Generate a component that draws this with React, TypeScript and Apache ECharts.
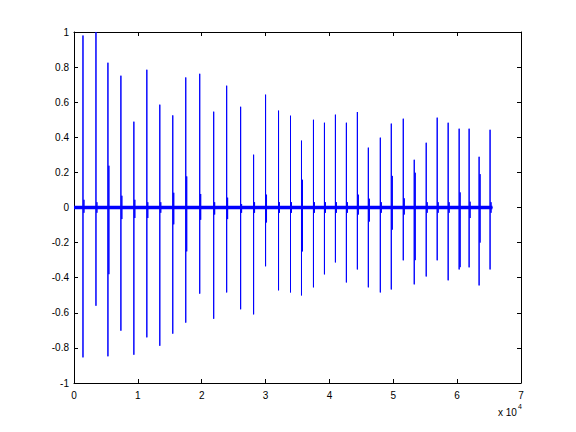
import React, { useEffect, useRef } from "react";
import * as echarts from "echarts";

// Spike sample positions (x) and peak values
const spikeX = [1406, 3438, 5313, 7344, 9375, 11406, 13438, 15469, 17500, 19688, 21875, 23906,
  26094, 28125, 30000, 32031, 33906, 35625, 37500, 39219, 40938, 42656, 44375, 46094,
  47969, 49688, 51563, 53281, 55156, 56875, 58594, 60313, 61875, 63438, 65156];
const spikeHigh = [0.98, 1.0, 0.825, 0.751, 0.489, 0.785, 0.586, 0.525, 0.741, 0.762, 0.546, 0.694,
  0.574, 0.301, 0.643, 0.552, 0.523, 0.381, 0.5, 0.483, 0.529, 0.483, 0.544, 0.341,
  0.398, 0.478, 0.506, 0.272, 0.369, 0.512, 0.483, 0.449, 0.449, 0.289, 0.443];
const spikeLow = [-0.854, -0.56, -0.848, -0.702, -0.839, -0.74, -0.788, -0.719, -0.656, -0.491, -0.634, -0.484,
  -0.58, -0.609, -0.335, -0.472, -0.484, -0.501, -0.455, -0.381, -0.313, -0.427, -0.353, -0.455,
  -0.484, -0.467, -0.301, -0.438, -0.393, -0.301, -0.415, -0.353, -0.341, -0.444, -0.353];
// Secondary (echo) spikes just after each main spike
const echoHigh = [0.044, 0.03, 0.238, 0.067, 0.044, 0.03, 0.03, 0.084, 0.177, 0.077, 0.03, 0.056,
  0.02, 0.03, 0.073, 0.03, 0.03, 0.158, 0.03, 0.03, 0.03, 0.03, 0.073, 0.05,
  0.03, 0.18, 0.052, 0.198, 0.03, 0.03, 0.03, 0.086, 0.033, 0.19, 0.03];
const echoLow = [-0.03, -0.03, -0.38, -0.066, -0.06, -0.06, -0.03, -0.096, -0.25, -0.07, -0.04, -0.066,
  -0.03, -0.03, -0.085, -0.03, -0.03, -0.25, -0.03, -0.03, -0.03, -0.03, -0.04, -0.08,
  -0.03, -0.126, -0.04, -0.3, -0.03, -0.03, -0.03, -0.34, -0.06, -0.2, -0.03];
const signalLength = 65536;
const echoOffset = 150;
const xTicks = [0, 1, 2, 3, 4, 5, 6, 7];

export default function App() {
  const ref = useRef<HTMLDivElement>(null);
  useEffect(() => {
    if (!ref.current) return;
    const chart = echarts.init(ref.current, null, { renderer: "svg" });
    const spikeData: any[] = [[0, 0]];
    spikeX.forEach((x, i) => {
      spikeData.push([x, 0], [x, spikeHigh[i]], [x, spikeLow[i]], [x, 0]);
      const x2 = x + echoOffset;
      spikeData.push([x2, 0], [x2, echoHigh[i]], [x2, echoLow[i]], [x2, 0]);
    });
    spikeData.push([signalLength, 0]);
    const font = "Liberation Sans, Arial, sans-serif";
    const axisCommon = {
      type: "value",
      axisLine: { show: true, onZero: false, lineStyle: { color: "#000", width: 1 } },
      axisTick: { show: true, inside: true, length: 4, lineStyle: { color: "#000" } },
      splitLine: { show: false },
    };
    const fmtY = (v: number) => {
      const r = Math.round(v * 10) / 10;
      return r === 0 ? "0" : String(r);
    };
    chart.setOption({
      animation: false,
      grid: { left: 74, right: 55, top: 32, bottom: 49, containLabel: false },
      xAxis: [
        {
          ...axisCommon,
          position: "bottom",
          min: 0,
          max: xTicks[xTicks.length - 1] * 10000,
          interval: 10000,
          axisLabel: {
            show: true,
            margin: 7,
            color: "#000",
            fontSize: 10,
            fontFamily: font,
            formatter: (v: number) => String(Math.round(v / 10000)),
          },
        },
        {
          ...axisCommon,
          position: "top",
          min: 0,
          max: 70000,
          interval: 10000,
          axisLabel: { show: false },
        },
      ],
      yAxis: [
        {
          ...axisCommon,
          position: "left",
          min: -1,
          max: 1,
          interval: 0.2,
          axisLabel: {
            show: true,
            margin: 5,
            color: "#000",
            fontSize: 10,
            fontFamily: font,
            formatter: fmtY,
          },
        },
        {
          ...axisCommon,
          position: "right",
          min: -1,
          max: 1,
          interval: 0.2,
          axisLabel: { show: false },
        },
      ],
      graphic: [
        {
          type: "text",
          left: 498,
          top: 403,
          style: {
            text: "{a|x 10}{b|4}",
            rich: {
              a: { fontSize: 10, fontFamily: font, fill: "#000", verticalAlign: "bottom", lineHeight: 14 },
              b: { fontSize: 7, fontFamily: font, fill: "#000", verticalAlign: "top", lineHeight: 8, padding: [0, 0, 6, 1] },
            },
          },
        },
      ],
      series: [
        {
          type: "line",
          xAxisIndex: 0,
          yAxisIndex: 0,
          data: [[0, 0], [signalLength, 0]],
          showSymbol: false,
          lineStyle: { color: "#0000ff", width: 3.5 },
          silent: true,
        },
        {
          type: "line",
          xAxisIndex: 0,
          yAxisIndex: 0,
          data: spikeData,
          showSymbol: false,
          lineStyle: { color: "#0000ff", width: 1 },
          silent: true,
        },
      ],
    });
    return () => chart.dispose();
  }, []);
  return <div ref={ref} style={{ width: 576, height: 432, position: "absolute", left: 0, top: 0, background: "#fff" }} />;
}
